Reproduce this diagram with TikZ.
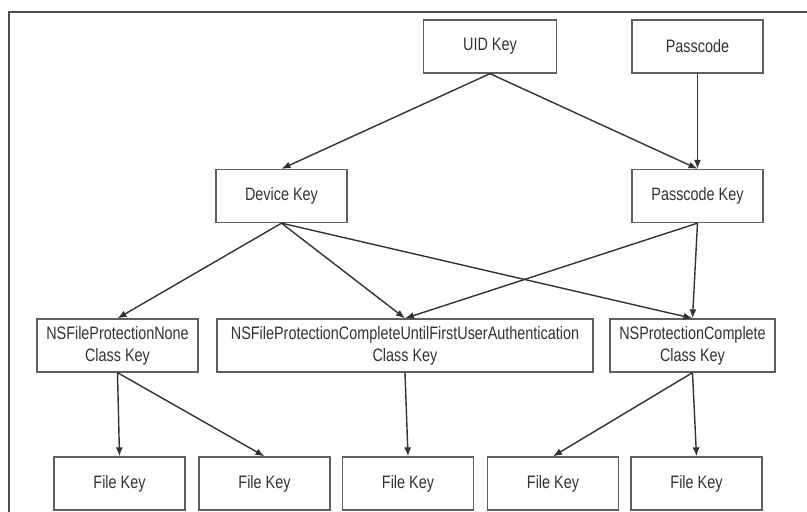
\documentclass[tikz,border=0pt]{standalone}
\usepackage{fontspec}
\setmainfont[FakeStretch=0.8]{Liberation Sans}
\usetikzlibrary{arrows.meta}

\definecolor{boxgray}{RGB}{95,95,95}
\definecolor{inkgray}{RGB}{50,50,50}

\begin{document}
\begin{tikzpicture}[x=1pt,y=-1pt,
  keybox/.style={draw=boxgray, line width=1.3pt, text=inkgray, align=center,
    minimum width=131pt, minimum height=53pt, inner sep=0pt,
    font=\fontsize{18}{22}\selectfont},
  keyarrow/.style={draw=inkgray, line width=1.4pt, -{Latex[length=9pt,width=7pt]}}]

\useasboundingbox (0,0) rectangle (807,512);

% Frame
\draw[line width=2.6pt, draw=black!70] (9,512)--(9,12)--(807,12);

% Top row
\node[keybox, minimum width=133pt] (uid) at (490,46.5) {UID Key};
\node[keybox] (pass) at (697.5,46.5) {Passcode};

% Derived keys
\node[keybox] (dev) at (281.5,196) {Device Key};
\node[keybox] (passkey) at (697.5,196) {Passcode Key};

% Class keys
\node[keybox, minimum width=161pt] (clsnone) at (117.5,345.5) {NSFileProtectionNone\\Class Key};
\node[keybox, minimum width=376pt] (clsfirst) at (405,345.5) {NSFileProtectionCompleteUntilFirstUserAuthentication\\Class Key};
\node[keybox, minimum width=165pt] (clscomp) at (692.5,345.5) {NSProtectionComplete\\Class Key};

% File keys
\node[keybox] (fk1) at (119.5,483.5) {File Key};
\node[keybox] (fk2) at (264.5,483.5) {File Key};
\node[keybox] (fk3) at (408,483.5) {File Key};
\node[keybox] (fk4) at (553,483.5) {File Key};
\node[keybox] (fk5) at (696.5,483.5) {File Key};

% Top to derived
\draw[keyarrow] (uid.south)--(dev.north);
\draw[keyarrow] (uid.south)--(passkey.north);
\draw[keyarrow] (pass.south)--(passkey.north);

% Derived to class keys
\draw[keyarrow] (dev.south)--(clsnone.north);
\draw[keyarrow] (dev.south)--(clsfirst.north);
\draw[keyarrow] (dev.south)--(clscomp.north);
\draw[keyarrow] (passkey.south)--(clsfirst.north);
\draw[keyarrow] (passkey.south)--(clscomp.north);

% Class keys to file keys
\draw[keyarrow] (clsnone.south)--(fk1.north);
\draw[keyarrow] (clsnone.south)--(fk2.north);
\draw[keyarrow] (clsfirst.south)--(fk3.north);
\draw[keyarrow] (clscomp.south)--(fk4.north);
\draw[keyarrow] (clscomp.south)--(fk5.north);

\end{tikzpicture}
\end{document}
